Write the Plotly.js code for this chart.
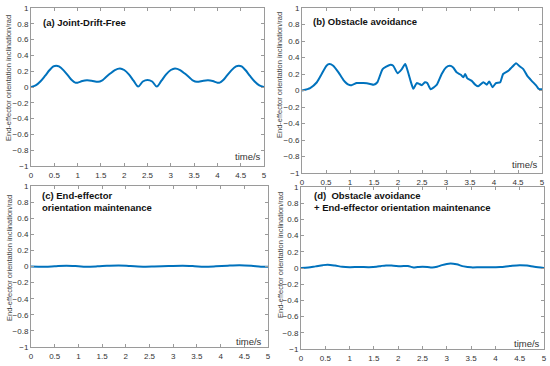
<!DOCTYPE html>
<html>
<head>
<meta charset="utf-8">
<script src="https://cdn.plot.ly/plotly-3.0.1.min.js"></script>
<style>html,body{margin:0;padding:0;background:#fff;}#chart{width:550px;height:366px;}</style>
</head>
<body>
<div id="chart"></div>
<script>
// Panel (a) Joint-Drift-Free
var timeA = [0,0.1,0.2,0.3,0.4,0.48,0.54,0.6,0.7,0.8,0.88,0.95,1.0,1.1,1.2,1.3,1.44,1.52,1.6,1.7,1.8,1.91,2.0,2.1,2.2,2.3,2.4,2.5,2.6,2.7,2.8,2.9,3.0,3.09,3.2,3.3,3.4,3.48,3.56,3.7,3.8,3.9,4.0,4.05,4.12,4.2,4.3,4.4,4.46,4.52,4.6,4.7,4.8,4.9,5.0];
var valA  = [0,0.02,0.07,0.14,0.215,0.26,0.27,0.26,0.21,0.14,0.085,0.055,0.055,0.075,0.085,0.08,0.065,0.08,0.12,0.17,0.215,0.235,0.215,0.16,0.08,0.005,0.07,0.09,0.07,0.005,0.08,0.16,0.215,0.235,0.215,0.17,0.12,0.08,0.065,0.08,0.085,0.075,0.055,0.055,0.085,0.14,0.21,0.26,0.27,0.26,0.215,0.14,0.07,0.02,0];

// Panel (b) Obstacle avoidance
var timeB = [0,0.17,0.31,0.41,0.51,0.57,0.65,0.76,0.86,0.97,1.03,1.14,1.28,1.42,1.49,1.57,1.68,1.83,1.9,1.99,2.08,2.15,2.19,2.26,2.32,2.39,2.44,2.5,2.56,2.61,2.68,2.75,2.81,2.91,3.0,3.08,3.15,3.22,3.31,3.36,3.4,3.44,3.53,3.61,3.67,3.78,3.85,3.9,3.97,4.04,4.13,4.19,4.3,4.37,4.46,4.54,4.61,4.69,4.78,4.88,4.93,5.0];
var valB  = [0,0.03,0.1,0.2,0.3,0.32,0.3,0.22,0.13,0.07,0.065,0.09,0.09,0.08,0.07,0.1,0.26,0.31,0.3,0.21,0.26,0.32,0.26,0.12,0.02,0.09,0.08,0.065,0.1,0.09,0.015,0.04,0.07,0.2,0.28,0.3,0.28,0.22,0.19,0.16,0.2,0.15,0.12,0.07,0.05,0.1,0.07,0.11,0.04,0.09,0.1,0.2,0.24,0.28,0.33,0.29,0.26,0.18,0.12,0.06,0.02,0.015];

// Panel (c) End-effector orientation maintenance
var timeC = [0,0.3,0.5,0.75,1.0,1.15,1.4,1.6,1.85,2.1,2.4,2.6,2.9,3.2,3.45,3.65,3.9,4.15,4.4,4.65,4.85,5.0];
var valC  = [0,-0.003,0.003,0.01,0.003,-0.002,0.002,0.008,0.013,0.006,-0.002,0.0,0.005,0.01,0.004,-0.003,0.002,0.01,0.015,0.008,-0.003,-0.004];

// Panel (d) Obstacle avoidance + End-effector orientation maintenance
var timeD = [0,0.15,0.3,0.45,0.55,0.7,0.85,1.0,1.2,1.4,1.55,1.65,1.75,1.9,2.05,2.2,2.3,2.4,2.5,2.6,2.7,2.8,2.9,3.0,3.08,3.2,3.35,3.5,3.7,3.9,4.1,4.3,4.5,4.65,4.8,5.0];
var valD  = [0,0.005,0.02,0.035,0.04,0.03,0.015,0.01,0.012,0.01,0.015,0.025,0.032,0.028,0.022,0.025,0.008,0.012,0.015,0.012,0.005,0.015,0.035,0.05,0.055,0.045,0.02,0.008,0.01,0.008,0.012,0.025,0.035,0.03,0.015,0];

var panelTitles = ['(a) Joint-Drift-Free', '(b) Obstacle avoidance', '(c) End-effector<br>orientation maintenance', '(d)  Obstacle avoidance<br>+ End-effector orientation maintenance'];
var yTitle = 'End-effector orientation inclination/rad';
var xTitle = 'time/s';

var W = 550, H = 366;
// plot boxes in pixels [left, right, top, bottom]
var boxes = [[31,264,8,166],[302,542,8,173],[31,268,186,347],[301,544,187,349]];
var lineColor = '#0072BD';

var times = [timeA,timeB,timeC,timeD];
var vals = [valA,valB,valC,valD];
var traces = [];
var layout = {
  width: W, height: H,
  margin: {l:0,r:0,t:0,b:0},
  paper_bgcolor: '#fff', plot_bgcolor: '#fff',
  showlegend: false,
  font: {family: 'Liberation Sans, Arial, sans-serif', size: 8, color: '#333'},
  annotations: []
};
for (var i = 0; i < 4; i++) {
  var sfx = i === 0 ? '' : String(i+1);
  traces.push({
    x: times[i], y: vals[i], type: 'scatter', mode: 'lines',
    xaxis: 'x' + sfx, yaxis: 'y' + sfx,
    line: {color: lineColor, width: 2, shape: 'spline', smoothing: i === 1 ? 0.5 : 0.9},
    hoverinfo: 'skip'
  });
  var b = boxes[i];
  var axCommon = {
    showline: true, linecolor: '#9a9a9a', linewidth: 1, mirror: 'ticks',
    ticks: 'inside', ticklen: 3, tickcolor: '#9a9a9a', tickwidth: 1,
    showgrid: false, zeroline: false,
    tickfont: {size: 8, color: '#333', family: 'Liberation Sans, Arial, sans-serif'}
  };
  layout['xaxis' + sfx] = Object.assign({}, axCommon, {
    domain: [b[0]/W, b[1]/W], range: [0,5], dtick: 0.5, tick0: 0,
    anchor: 'y' + sfx, ticklabelstandoff: 1
  });
  layout['yaxis' + sfx] = Object.assign({}, axCommon, {
    domain: [1 - b[3]/H, 1 - b[2]/H], range: [-1,1], dtick: 0.2, tick0: -1,
    anchor: 'x' + sfx
  });
  // panel title
  var tx = [41, 311, 40, 312][i];
  var ty = [23, 22, 202, 202][i];
  layout.annotations.push({
    text: '<b>' + panelTitles[i] + '</b>', xref: 'paper', yref: 'paper',
    x: tx/W, y: 1 - ty/H, xanchor: 'left', yanchor: 'middle', align: 'left',
    showarrow: false, font: {size: 9.5, color: '#111', family: 'Liberation Sans, Arial, sans-serif'}
  });
  // y title
  var yx = [8, 279, 9, 280][i];
  var yc = [78, 75, 258, 255][i];
  layout.annotations.push({
    text: yTitle, textangle: -90, xref: 'paper', yref: 'paper',
    x: yx/W, y: 1 - yc/H, xanchor: 'center', yanchor: 'middle',
    showarrow: false, font: {size: 7.5, color: '#444', family: 'Liberation Sans, Arial, sans-serif'}
  });
  // time/s label
  var rx = [263, 540, 264, 542][i];
  var ry = [157, 164, 341, 343][i];
  layout.annotations.push({
    text: xTitle, xref: 'paper', yref: 'paper',
    x: rx/W, y: 1 - ry/H, xanchor: 'right', yanchor: 'middle',
    showarrow: false, font: {size: 9.5, color: '#333', family: 'Liberation Sans, Arial, sans-serif'}
  });
}
Plotly.newPlot('chart', traces, layout, {staticPlot: true, displayModeBar: false});
</script>
</body>
</html>
